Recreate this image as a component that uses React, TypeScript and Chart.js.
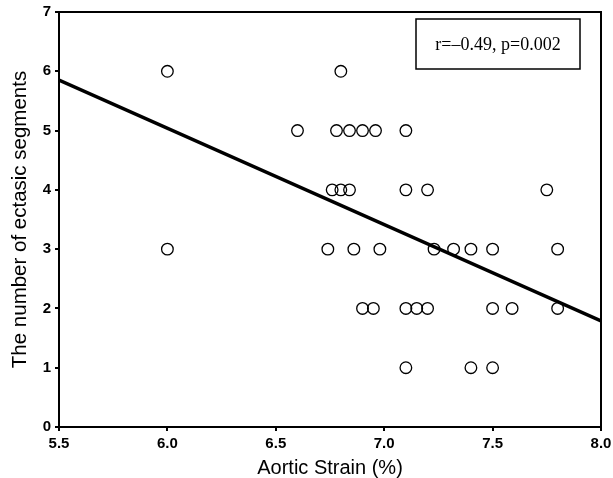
import React, { useEffect, useRef } from "react";
import { Chart, registerables } from "chart.js";

Chart.register(...registerables);

const strainX = [
  6.0, 6.8,
  6.6, 6.78, 6.84, 6.9, 6.96, 7.1,
  6.76, 6.8, 6.84, 7.1, 7.2, 7.75,
  6.0, 6.74, 6.86, 6.98, 7.23, 7.32, 7.4, 7.5, 7.8,
  6.9, 6.95, 7.1, 7.15, 7.2, 7.5, 7.59, 7.8,
  7.1, 7.4, 7.5,
];
const segmentsY = [
  6, 6,
  5, 5, 5, 5, 5, 5,
  4, 4, 4, 4, 4, 4,
  3, 3, 3, 3, 3, 3, 3, 3, 3,
  2, 2, 2, 2, 2, 2, 2, 2,
  1, 1, 1,
];
const fitX = [5.5, 8.0];
const fitY = [5.85, 1.79];
const annotationText = "r=\u20130.49, p=0.002";
const xTitle = "Aortic Strain (%)";
const yTitle = "The number of ectasic segments";

const framePlugin = {
  id: "frameAndNote",
  afterDraw(chart: any) {
    const { ctx, chartArea } = chart;
    ctx.save();
    ctx.strokeStyle = "#000";
    ctx.lineWidth = 2;
    ctx.strokeRect(chartArea.left, chartArea.top, chartArea.right - chartArea.left, chartArea.bottom - chartArea.top);
    const bw = 164, bh = 50;
    const bx = chartArea.right - 21 - bw;
    const by = chartArea.top + 7;
    ctx.lineWidth = 1.5;
    ctx.fillStyle = "#fff";
    ctx.fillRect(bx, by, bw, bh);
    ctx.strokeRect(bx, by, bw, bh);
    ctx.fillStyle = "#000";
    ctx.font = "18px 'Liberation Serif', 'Times New Roman', serif";
    ctx.textAlign = "center";
    ctx.textBaseline = "middle";
    ctx.fillText(annotationText, bx + bw / 2, by + bh / 2 + 1);
    ctx.restore();
  },
};

export default function App() {
  const ref = useRef<HTMLCanvasElement>(null);
  useEffect(() => {
    document.body.style.margin = "0";
    const points = strainX.map((x, i) => ({ x, y: segmentsY[i] }));
    const fit = fitX.map((x, i) => ({ x, y: fitY[i] }));
    const tickFont = { family: "'Liberation Sans', Arial, sans-serif", size: 15, weight: "bold" as const };
    const xTitleFont = { family: "'Liberation Sans', Arial, sans-serif", size: 20, lineHeight: 1 };
    const yTitleFont = { family: "'Liberation Sans', Arial, sans-serif", size: 20.5, lineHeight: 1 };
    const chart = new Chart(ref.current!, {
      type: "scatter",
      data: {
        datasets: [
          {
            data: points,
            pointStyle: "circle",
            pointRadius: 5.8,
            pointBorderWidth: 1.3,
            pointBorderColor: "#000",
            pointBackgroundColor: "rgba(0,0,0,0)",
            borderColor: "#000",
            backgroundColor: "rgba(0,0,0,0)",
            order: 2,
          },
          {
            type: "line",
            data: fit,
            showLine: true,
            borderColor: "#000",
            borderWidth: 3.5,
            pointRadius: 0,
            fill: false,
            order: 1,
          } as any,
        ],
      },
      options: {
        animation: false,
        responsive: false,
        maintainAspectRatio: false,
        layout: { padding: { top: 12, right: 12, left: 0, bottom: 0 } },
        plugins: { legend: { display: false }, tooltip: { enabled: false } },
        scales: {
          x: {
            type: "linear",
            min: 5.5,
            max: 8.0,
            ticks: {
              stepSize: 0.5,
              color: "#000",
              font: tickFont,
              padding: 4,
              maxRotation: 0,
              callback: (v: any) => Number(v).toFixed(1),
            },
            grid: { drawOnChartArea: false, drawTicks: true, tickLength: 4, color: "#000", lineWidth: 2 },
            border: { display: true, color: "#000", width: 2 },
            title: { display: true, text: xTitle, color: "#000", font: xTitleFont, padding: { top: 0, bottom: 0 } },
            afterFit: (s: any) => { s.height = 51; s.paddingLeft = 0; s.paddingRight = 0; },
          },
          y: {
            type: "linear",
            min: 0,
            max: 7,
            ticks: { stepSize: 1, color: "#000", font: tickFont, padding: 4 },
            grid: { drawOnChartArea: false, drawTicks: true, tickLength: 4, color: "#000", lineWidth: 2 },
            border: { display: true, color: "#000", width: 2 },
            title: { display: true, text: yTitle, color: "#000", font: yTitleFont, padding: { top: 10, bottom: 0 } },
            afterFit: (s: any) => { s.width = 59; s.paddingTop = 0; s.paddingBottom = 0; },
          },
        },
      },
      plugins: [framePlugin],
    });
    return () => chart.destroy();
  }, []);
  return (
    <div style={{ position: "fixed", left: 0, top: 0, width: 613, height: 478, background: "#fff" }}>
      <canvas ref={ref} width={613} height={478} style={{ display: "block" }} />
    </div>
  );
}
